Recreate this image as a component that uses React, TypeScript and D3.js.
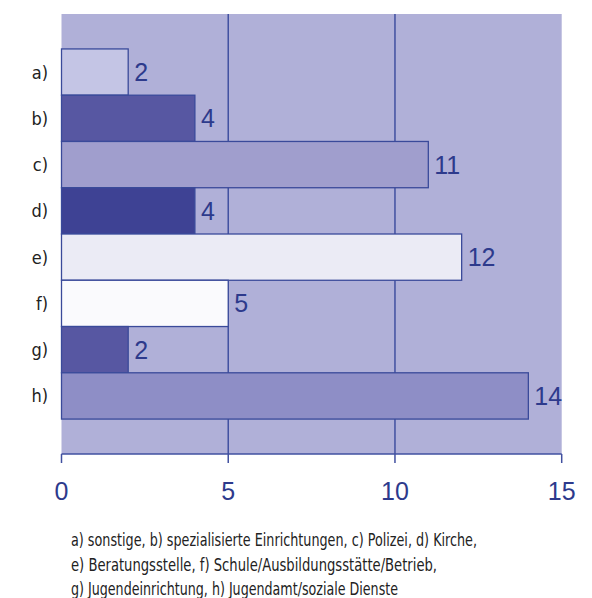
import React from "react";
import * as d3 from "d3";

const categories = ["a)", "b)", "c)", "d)", "e)", "f)", "g)", "h)"];
const values = [2, 4, 11, 4, 12, 5, 2, 14];
const barColors = ["#c4c5e5", "#5757a2", "#a09ecd", "#3e4294", "#ebebf5", "#fafafd", "#5757a2", "#8e8ec6"];
const xTicks = [0, 5, 10, 15];
const gridTicks = [5, 10];
const footnote = [
  "a) sonstige, b) spezialisierte Einrichtungen, c) Polizei, d) Kirche,",
  "e) Beratungsstelle, f) Schule/Ausbildungsstätte/Betrieb,",
  "g) Jugendeinrichtung, h) Jugendamt/soziale Dienste",
];
const footWidths = [406, 366, 327];

export default function App() {
  const left = 61.5, right = 561.7, top = 14, bottom = 454;
  const x = d3.scaleLinear().domain([0, 15]).range([left, right]);
  const y = d3.scaleBand().domain(categories).range([top, bottom]).paddingInner(0).paddingOuter(0.755);
  const blue = "#2d3a8c";
  const lineCol = "#4150a0";
  return (
    <svg width={592} height={598} style={{ position: "absolute", left: 0, top: 0 }}>
      <rect x={left} y={top} width={right - left} height={bottom - top} fill="#b0b0d8" />
      {gridTicks.map((t) => (
        <line key={t} x1={x(t)} x2={x(t)} y1={top} y2={bottom} stroke={lineCol} strokeWidth={1.5} />
      ))}
      {categories.map((c, i) => (
        <g key={c}>
          <rect x={x(0)} y={y(c)!} width={x(values[i]) - x(0)} height={y.bandwidth()} fill={barColors[i]} stroke="#3a4a9a" strokeWidth={1.3} />
          <text x={x(values[i]) + 6} y={y(c)! + y.bandwidth() / 2} dy="0.36em" fontFamily="Liberation Sans, Arial, sans-serif" fontSize={25} fill={blue}>
            {values[i]}
          </text>
          <text x={48} y={y(c)! + y.bandwidth() / 2} dy="0.36em" textAnchor="end" fontFamily="DejaVu Sans Condensed, sans-serif" fontSize={18} fill="#222">
            {c}
          </text>
        </g>
      ))}
      <line x1={left} x2={right} y1={bottom} y2={bottom} stroke={lineCol} strokeWidth={1.5} />
      {xTicks.map((t) => (
        <g key={t}>
          <line x1={x(t)} x2={x(t)} y1={bottom} y2={bottom + 9} stroke={lineCol} strokeWidth={1.5} />
          <text x={x(t)} y={500} textAnchor="middle" fontFamily="Liberation Sans, Arial, sans-serif" fontSize={25} fill={blue}>
            {t}
          </text>
        </g>
      ))}
      {footnote.map((l, i) => (
        <text key={i} x={71} y={546 + i * 24.5} fontFamily="DejaVu Sans Condensed, sans-serif" fontSize={18} fill="#222" textLength={footWidths[i]} lengthAdjust="spacingAndGlyphs">
          {l}
        </text>
      ))}
    </svg>
  );
}
